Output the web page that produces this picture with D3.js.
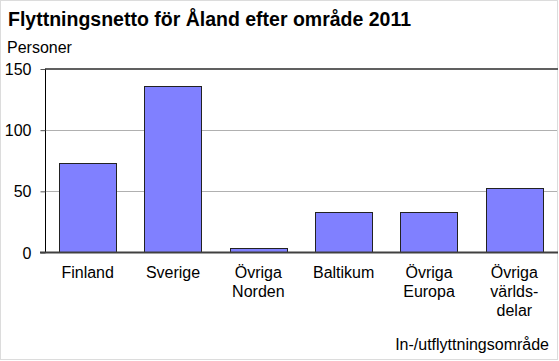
<!DOCTYPE html>
<html><head><meta charset="utf-8">
<script src="https://cdn.jsdelivr.net/npm/d3@7"></script>
<style>body{margin:0;background:#fff}svg{display:block}text{font-family:"Liberation Sans",Arial,sans-serif}</style>
</head><body>
<svg id="c" width="559" height="361"></svg>
<script>
const categories = [["Finland"],["Sverige"],["Övriga","Norden"],["Baltikum"],["Övriga","Europa"],["Övriga","världs-","delar"]];
const values = [73, 136, 4, 33, 33, 53];
const yTicks = [0, 50, 100, 150];
const title = "Flyttningsnetto för Åland efter område 2011";
const yTitle = "Personer";
const xTitle = "In-/utflyttningsområde";

const svg = d3.select("#c");
const L = 45, R = 557, T = 69, B = 252.5;
svg.append("rect").attr("x",0.5).attr("y",0.5).attr("width",557).attr("height",359)
  .attr("fill","#fff").attr("stroke","#dcdcdc");

const x = d3.scaleBand().domain(d3.range(values.length)).range([L, R]).paddingInner(0.33).paddingOuter(0.165);
const y = d3.scaleLinear().domain([0,150]).range([B, T]);

svg.append("text").attr("x",8).attr("y",26).attr("font-size",19.5).attr("font-weight","bold").attr("fill","#000").text(title);
svg.append("text").attr("x",7).attr("y",53).attr("font-size",16).attr("fill","#000").text(yTitle);

// gridlines
svg.selectAll(".g").data(yTicks.filter(t=>t>0 && t<150)).enter().append("line")
  .attr("x1",L).attr("x2",R).attr("y1",d=>Math.round(y(d))+0.5).attr("y2",d=>Math.round(y(d))+0.5)
  .attr("stroke","#b0b0b0").attr("stroke-width",1);
svg.append("line").attr("x1",L).attr("x2",R+1).attr("y1",y(150)).attr("y2",y(150)).attr("stroke","#606060").attr("stroke-width",2);

// bars
svg.selectAll(".bar").data(values).enter().append("rect")
  .attr("x",(d,i)=>Math.round(x(i))+0.5).attr("width",Math.round(x.bandwidth()))
  .attr("y",d=>Math.round(y(d))+0.5).attr("height",d=>B-Math.round(y(d))-0.5)
  .attr("fill","#8080ff").attr("stroke","#222").attr("stroke-width",1);

// y axis
const yAxis = d3.axisLeft(y).tickValues(yTicks).tickSize(5).tickPadding(9);
const ga = svg.append("g").attr("transform",`translate(${L+0.5},0)`).call(yAxis);
ga.select(".domain").attr("stroke","#000").attr("d",`M0,${T}V${B}`);
ga.selectAll(".tick line").attr("stroke","#555");
ga.selectAll(".tick text").attr("font-size",16).attr("fill","#000").attr("font-family","Liberation Sans, Arial, sans-serif").attr("dy","0.35em");

// zero line
svg.append("line").attr("x1",L-5).attr("x2",R+1).attr("y1",B).attr("y2",B).attr("stroke","#404040").attr("stroke-width",2);

// x labels
const xl = svg.selectAll(".xl").data(categories).enter().append("text")
  .attr("text-anchor","middle").attr("font-size",16).attr("fill","#000")
  .attr("transform",(d,i)=>`translate(${x(i)+x.bandwidth()/2},278)`);
xl.selectAll("tspan").data(d=>d).enter().append("tspan").attr("x",0).attr("y",(d,j)=>j*19).text(d=>d);

svg.append("text").attr("x",549).attr("y",350).attr("text-anchor","end").attr("font-size",16).attr("fill","#000").text(xTitle);
</script>
</body></html>
